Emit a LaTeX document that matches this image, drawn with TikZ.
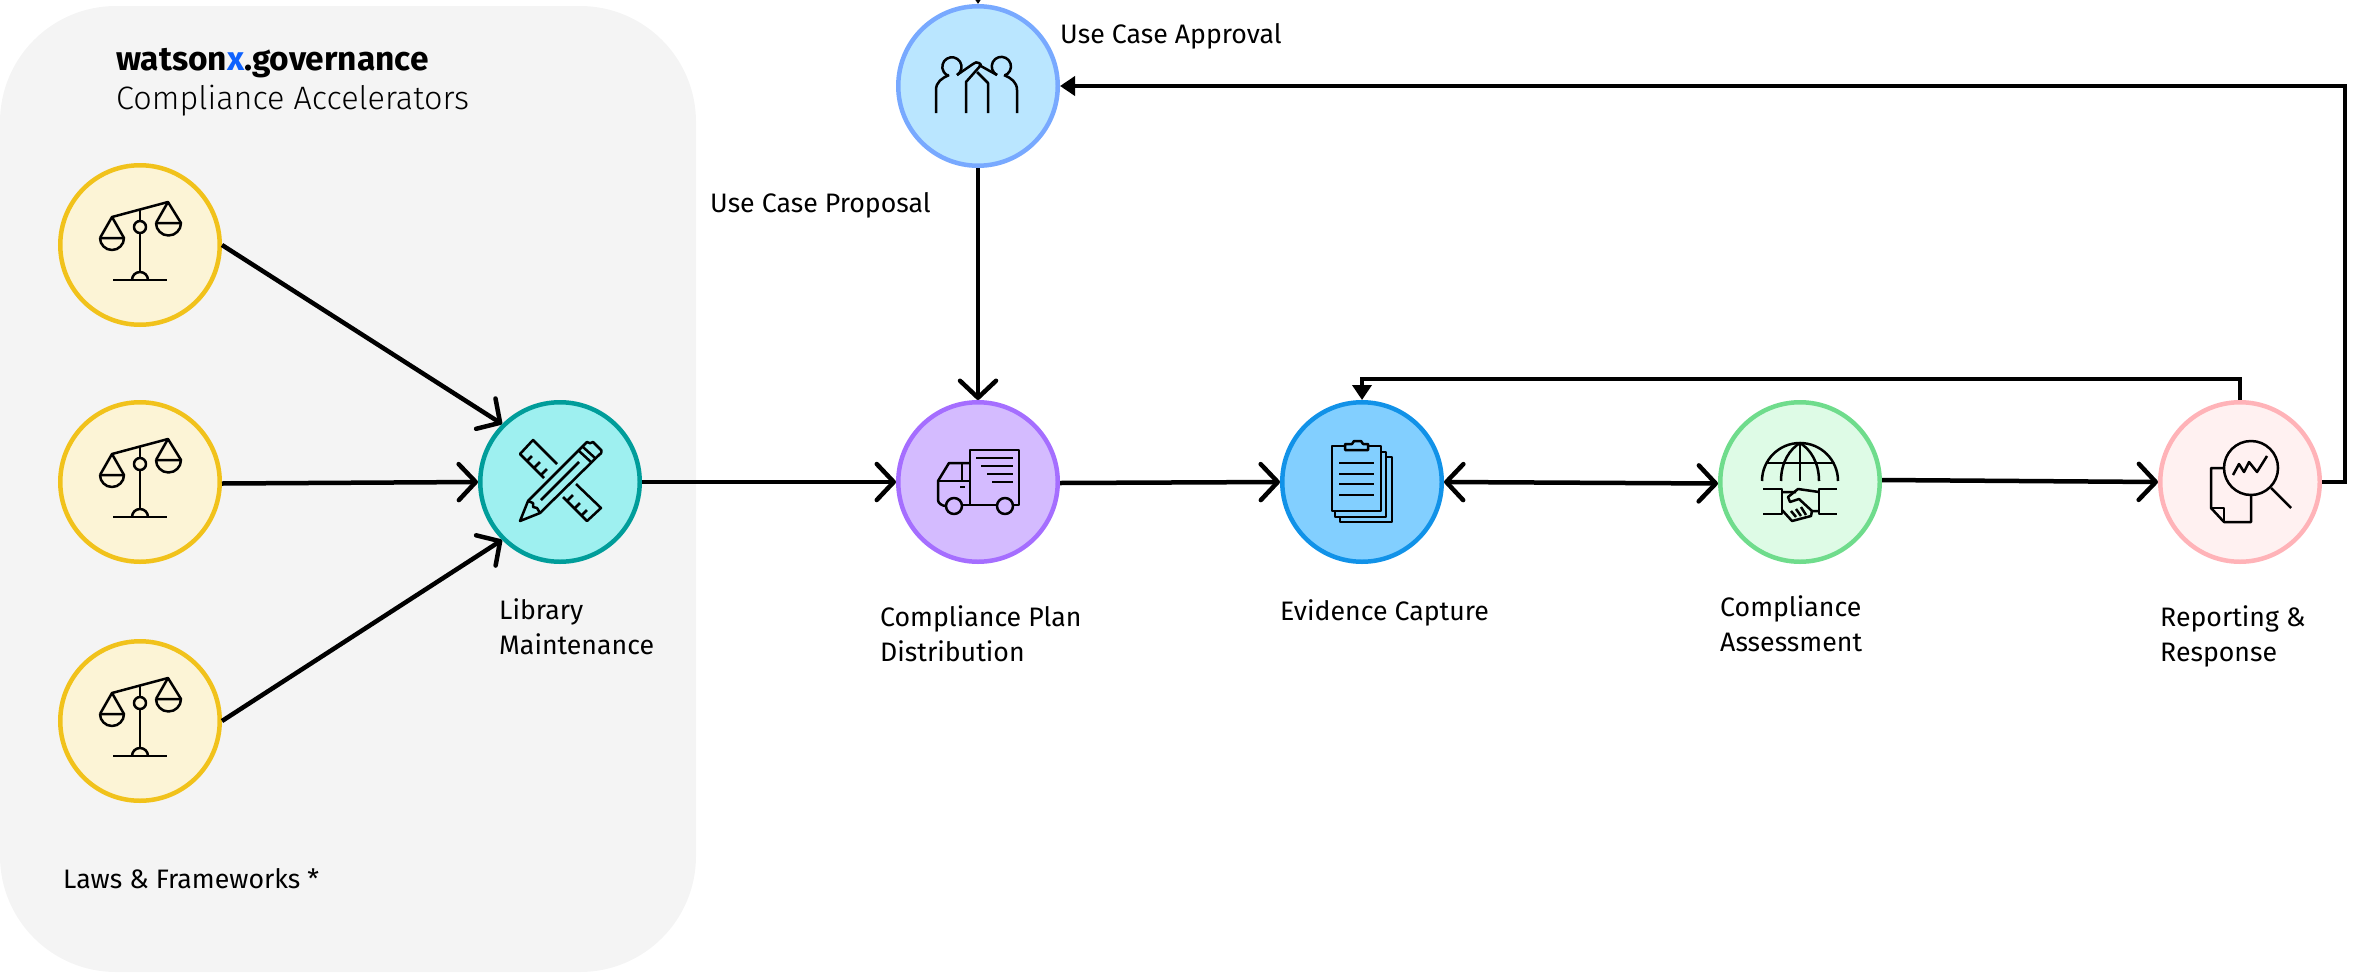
\documentclass[tikz,border=0pt]{standalone}
\usepackage{fontspec}
\setmainfont{Fira Sans}
\newfontfamily\lightf{Fira Sans Light}
\usetikzlibrary{arrows.meta}
\definecolor{panelgray}{HTML}{F4F4F4}
\definecolor{yelF}{HTML}{FCF4D6}\definecolor{yelB}{HTML}{F1C21B}
\definecolor{tealF}{HTML}{9EF0F0}\definecolor{tealB}{HTML}{009D9A}
\definecolor{skyF}{HTML}{BAE6FF}\definecolor{skyB}{HTML}{78A9FF}
\definecolor{purF}{HTML}{D4BBFF}\definecolor{purB}{HTML}{A56EFF}
\definecolor{bluF}{HTML}{82CFFF}\definecolor{bluB}{HTML}{1192E8}
\definecolor{grnF}{HTML}{DEFBE6}\definecolor{grnB}{HTML}{6FDC8C}
\definecolor{pnkF}{HTML}{FFF1F1}\definecolor{pnkB}{HTML}{FFB3B8}
\definecolor{xblue}{HTML}{0F62FE}
\tikzset{
  stage/.style args={#1/#2}{circle,draw=#2,fill=#1,line width=4.5pt,minimum size=159.5pt,inner sep=0pt},
  conn/.style={line width=4.5pt,black,-{Straight Barb[length=17pt,width=36pt,round]}},
  both/.style={line width=4.5pt,black,{Straight Barb[length=17pt,width=36pt,round]}-{Straight Barb[length=17pt,width=36pt,round]}},
  feed/.style={line width=4.5pt,black,-{Triangle[length=15pt,width=19pt]},line join=miter},
  lbl/.style={anchor=base west,inner sep=0pt,align=left,font=\fontsize{26.7}{35}\selectfont,text=black},
  ico/.style={line width=2.5pt,black,line join=round,line cap=butt},
  pics/scales/.style={code={
    \draw[ico] (-28,-28)--(28,-43);
    \draw[ico] (-40,-7)--(-28,-28)--(-16,-7);
    \draw[ico] (-40,-7)--(-16,-7) arc[start angle=0,end angle=180,radius=12];
    \draw[ico] (16,-22)--(28,-43)--(41,-22);
    \draw[ico] (16,-22)--(41,-22) arc[start angle=0,end angle=180,radius=12.5];
    \draw[ico] (0,-35)--(0,-24);
    \draw[ico] (0,-18) circle[radius=6];
    \draw[ico] (0,-12)--(0,27);
    \draw[ico] (-27,35)--(27,35);
    \draw[ico] (-8,35) arc[start angle=180,end angle=360,radius=8];
  }},
  pics/tools/.style={code={
    \draw[ico] (-3,-18)--(-27,-42)--(-40,-28)--(-16,-4);
    \draw[ico] (-33,-21)--(-28,-26) (-26,-14)--(-20,-20) (-19,-7)--(-13,-13);
    \draw[ico] (16,2)--(41,26)--(27,39)--(3,15);
    \draw[ico] (7,19)--(13,13) (14,27)--(20,21) (21,34)--(27,28);
    \draw[ico] (-40,39)--(-32,19)--(27,-40) to[out=-45,in=-135] (33,-40)--(41,-32) to[out=45,in=-45] (40,-28)--(-20,31)--cycle;
    \draw[ico] (19,-31)--(31,-20) (23,-35)--(35,-24);
    \draw[ico] (-19,18)--(19,-20);
    \draw[ico] (-32,19)--(-27,21)--(-27,25)--(-23,26)--(-20,31);
  }},
  pics/people/.style={code={
    \draw[ico] (-21,-11) arc[start angle=58,end angle=-250,radius=9.6];
    \draw[ico] (19,-11) arc[start angle=117,end angle=430,radius=9.6];
    \draw[ico] (-42,27)--(-42,4) .. controls (-42,-4) and (-36,-8) .. (-29,-11);
    \draw[ico] (39,27)--(39,4) .. controls (39,-4) and (33,-8) .. (26,-11);
    \draw[ico] (-21,-11)--(-5,-22) .. controls (-3,-24) and (-1,-24) .. (1,-23)--(3,-21)--(-12,-4)--(-12,27);
    \draw[ico] (1,-21)--(19,-11);
    \draw[ico] (-1,-14)--(10,-3)--(10,27);
  }},
  pics/truck/.style={code={
    \draw[ico] (-8,23)--(-8,-32)--(41,-32)--(41,23)--(35,23);
    \draw[ico] (-16,23)--(19,23);
    \draw[ico] (-24,24) circle[radius=8];
    \draw[ico] (27,24) circle[radius=8];
    \draw[ico] (-8,-19)--(-29,-19)--(-40,-1)--(-40,18) .. controls (-40,21) and (-36,24) .. (-32,24);
    \draw[ico] (-40,-1)--(-8,-1);
    \draw[ico] (-16,-19)--(-16,-1);
    \draw[ico] (-18,5)--(-13,5);
    \draw[ico] (-2,-24)--(35,-24) (3,-16)--(35,-16) (9,-8)--(35,-8) (14,0)--(35,0);
  }},
  pics/papers/.style={code={
    \draw[ico] (-17,-36)--(-30,-36)--(-30,29)--(19,29)--(19,-36)--(6,-36);
    \draw[ico] (-17,-32)--(-17,-38)--(-10,-38)--(-8,-41)--(-1,-41)--(1,-38)--(6,-38)--(6,-32)--cycle;
    \draw[ico] (19,-30)--(24,-30)--(24,35)--(-27,35)--(-27,29);
    \draw[ico] (24,-25)--(30,-25)--(30,40)--(-22,40)--(-22,35);
    \draw[ico] (-23,-19)--(12,-19) (-23,-8)--(12,-8) (-23,2)--(12,2) (-23,13)--(12,13);
  }},
  pics/globeshake/.style={code={
    \draw[ico] (-38,-1) arc[start angle=180,end angle=360,radius=38];
    \draw[ico] (0,-39)--(0,-1);
    \draw[ico] (-19,-1) .. controls (-19,-20) and (-10,-33) .. (0,-39) .. controls (10,-33) and (19,-20) .. (19,-1);
    \draw[ico] (-33,-19)--(33,-19);
    \draw[ico] (-37,7)--(-18,7)--(-18,32)--(-37,32);
    \draw[ico] (37,7)--(19,7)--(19,32)--(37,32);
    \draw[ico] (-18,10)--(-4,10) (-18,28)--(-8,39)--(11,34)--(12,29)--(19,29);
    \draw[ico] (19,10)--(-2,7)--(-12,15)--(-10,20)--(-1,17)--(12,29);
    \draw[ico] (-4,35)--(-9,29) (1,34)--(-4,27) (6,33)--(1,25);
  }},
  pics/report/.style={code={
    \draw[ico] (11,-14) circle[radius=27];
    \draw[ico] (31,6)--(51,26);
    \draw[ico] (-7,-7)--(-1,-18)--(4,-10)--(9,-20)--(17,-10)--(27,-26);
    \draw[ico] (-16,-14)--(-29,-14)--(-29,26)--(-16,40)--(11,40)--(11,13);
    \draw[ico] (-29,26)--(-16,26)--(-16,40);
  }},
}
\begin{document}
\begin{tikzpicture}[x=1pt,y=-1pt]
\useasboundingbox (0,0) rectangle (2356,972);
\clip (0,0) rectangle (2356,972);
\fill[panelgray,rounded corners=116pt] (0,6) rectangle (696,972);

\node[stage=yelF/yelB] (law1) at (140,245) {};
\node[stage=yelF/yelB] (law2) at (140,482) {};
\node[stage=yelF/yelB] (law3) at (140,721) {};
\node[stage=tealF/tealB] (lib) at (560,482) {};
\node[stage=skyF/skyB] (appr) at (978,86) {};
\node[stage=purF/purB] (plan) at (978,482) {};
\node[stage=bluF/bluB] (evid) at (1362,482) {};
\node[stage=grnF/grnB] (asmt) at (1800,482) {};
\node[stage=pnkF/pnkB] (rep) at (2240,482) {};

\pic at (law1) {scales};
\pic at (law2) {scales};
\pic at (law3) {scales};
\pic at (lib) {tools};
\pic at (appr) {people};
\pic at (plan) {truck};
\pic at (evid) {papers};
\pic at (asmt) {globeshake};
\pic at (rep) {report};

\coordinate (topin) at (978,-20);
\coordinate (repR) at (2345,482);
\coordinate (rightTop) at (2345,86);
\coordinate (repUp) at (2240,379);
\coordinate (evUp) at (1362,379);

\draw[conn] (law1.east) -- (lib.135);
\draw[conn] ([yshift=-1.5pt]law2.east) -- (lib.west);
\draw[conn] (law3.east) -- (lib.225);
\draw[conn] (lib.east) -- (plan.west);
\draw[conn] ([yshift=-1pt]plan.east) -- (evid.west);
\draw[both] (evid.east) -- ([yshift=-1.5pt]asmt.west);
\draw[conn] ([yshift=2pt]asmt.east) -- (rep.west);
\draw[conn] (appr.south) -- (plan.north);
\draw[feed] (rep.east) -- (repR) -- (rightTop) -- (appr.east);
\draw[feed] (rep.north) -- (repUp) -- (evUp) -- (evid.north);
\draw[feed] (topin) -- (appr.north);

\node[lbl,font=\fontsize{33.5}{38}\selectfont] (brand) at (116,70) {\textbf{watson\textcolor{xblue}{x}.governance}};
\node[lbl,font=\fontsize{32.4}{38}\selectfont\lightf] (sub) at (116,109) {Compliance Accelerators};
\node[lbl] (tApp) at (1060,43) {Use Case Approval};
\node[lbl] (tProp) at (710,212) {Use Case Proposal};
\node[lbl] (tLib) at (499,654) {Library\\Maintenance};
\node[lbl] (tPlan) at (880,661) {Compliance Plan\\Distribution};
\node[lbl] (tEv) at (1280,620) {Evidence Capture};
\node[lbl] (tAs) at (1720,651) {Compliance\\Assessment};
\node[lbl] (tRep) at (2160,661) {Reporting \&\\Response};
\node[lbl] (tLaw) at (63,888) {Laws \& Frameworks *};
\end{tikzpicture}
\end{document}
